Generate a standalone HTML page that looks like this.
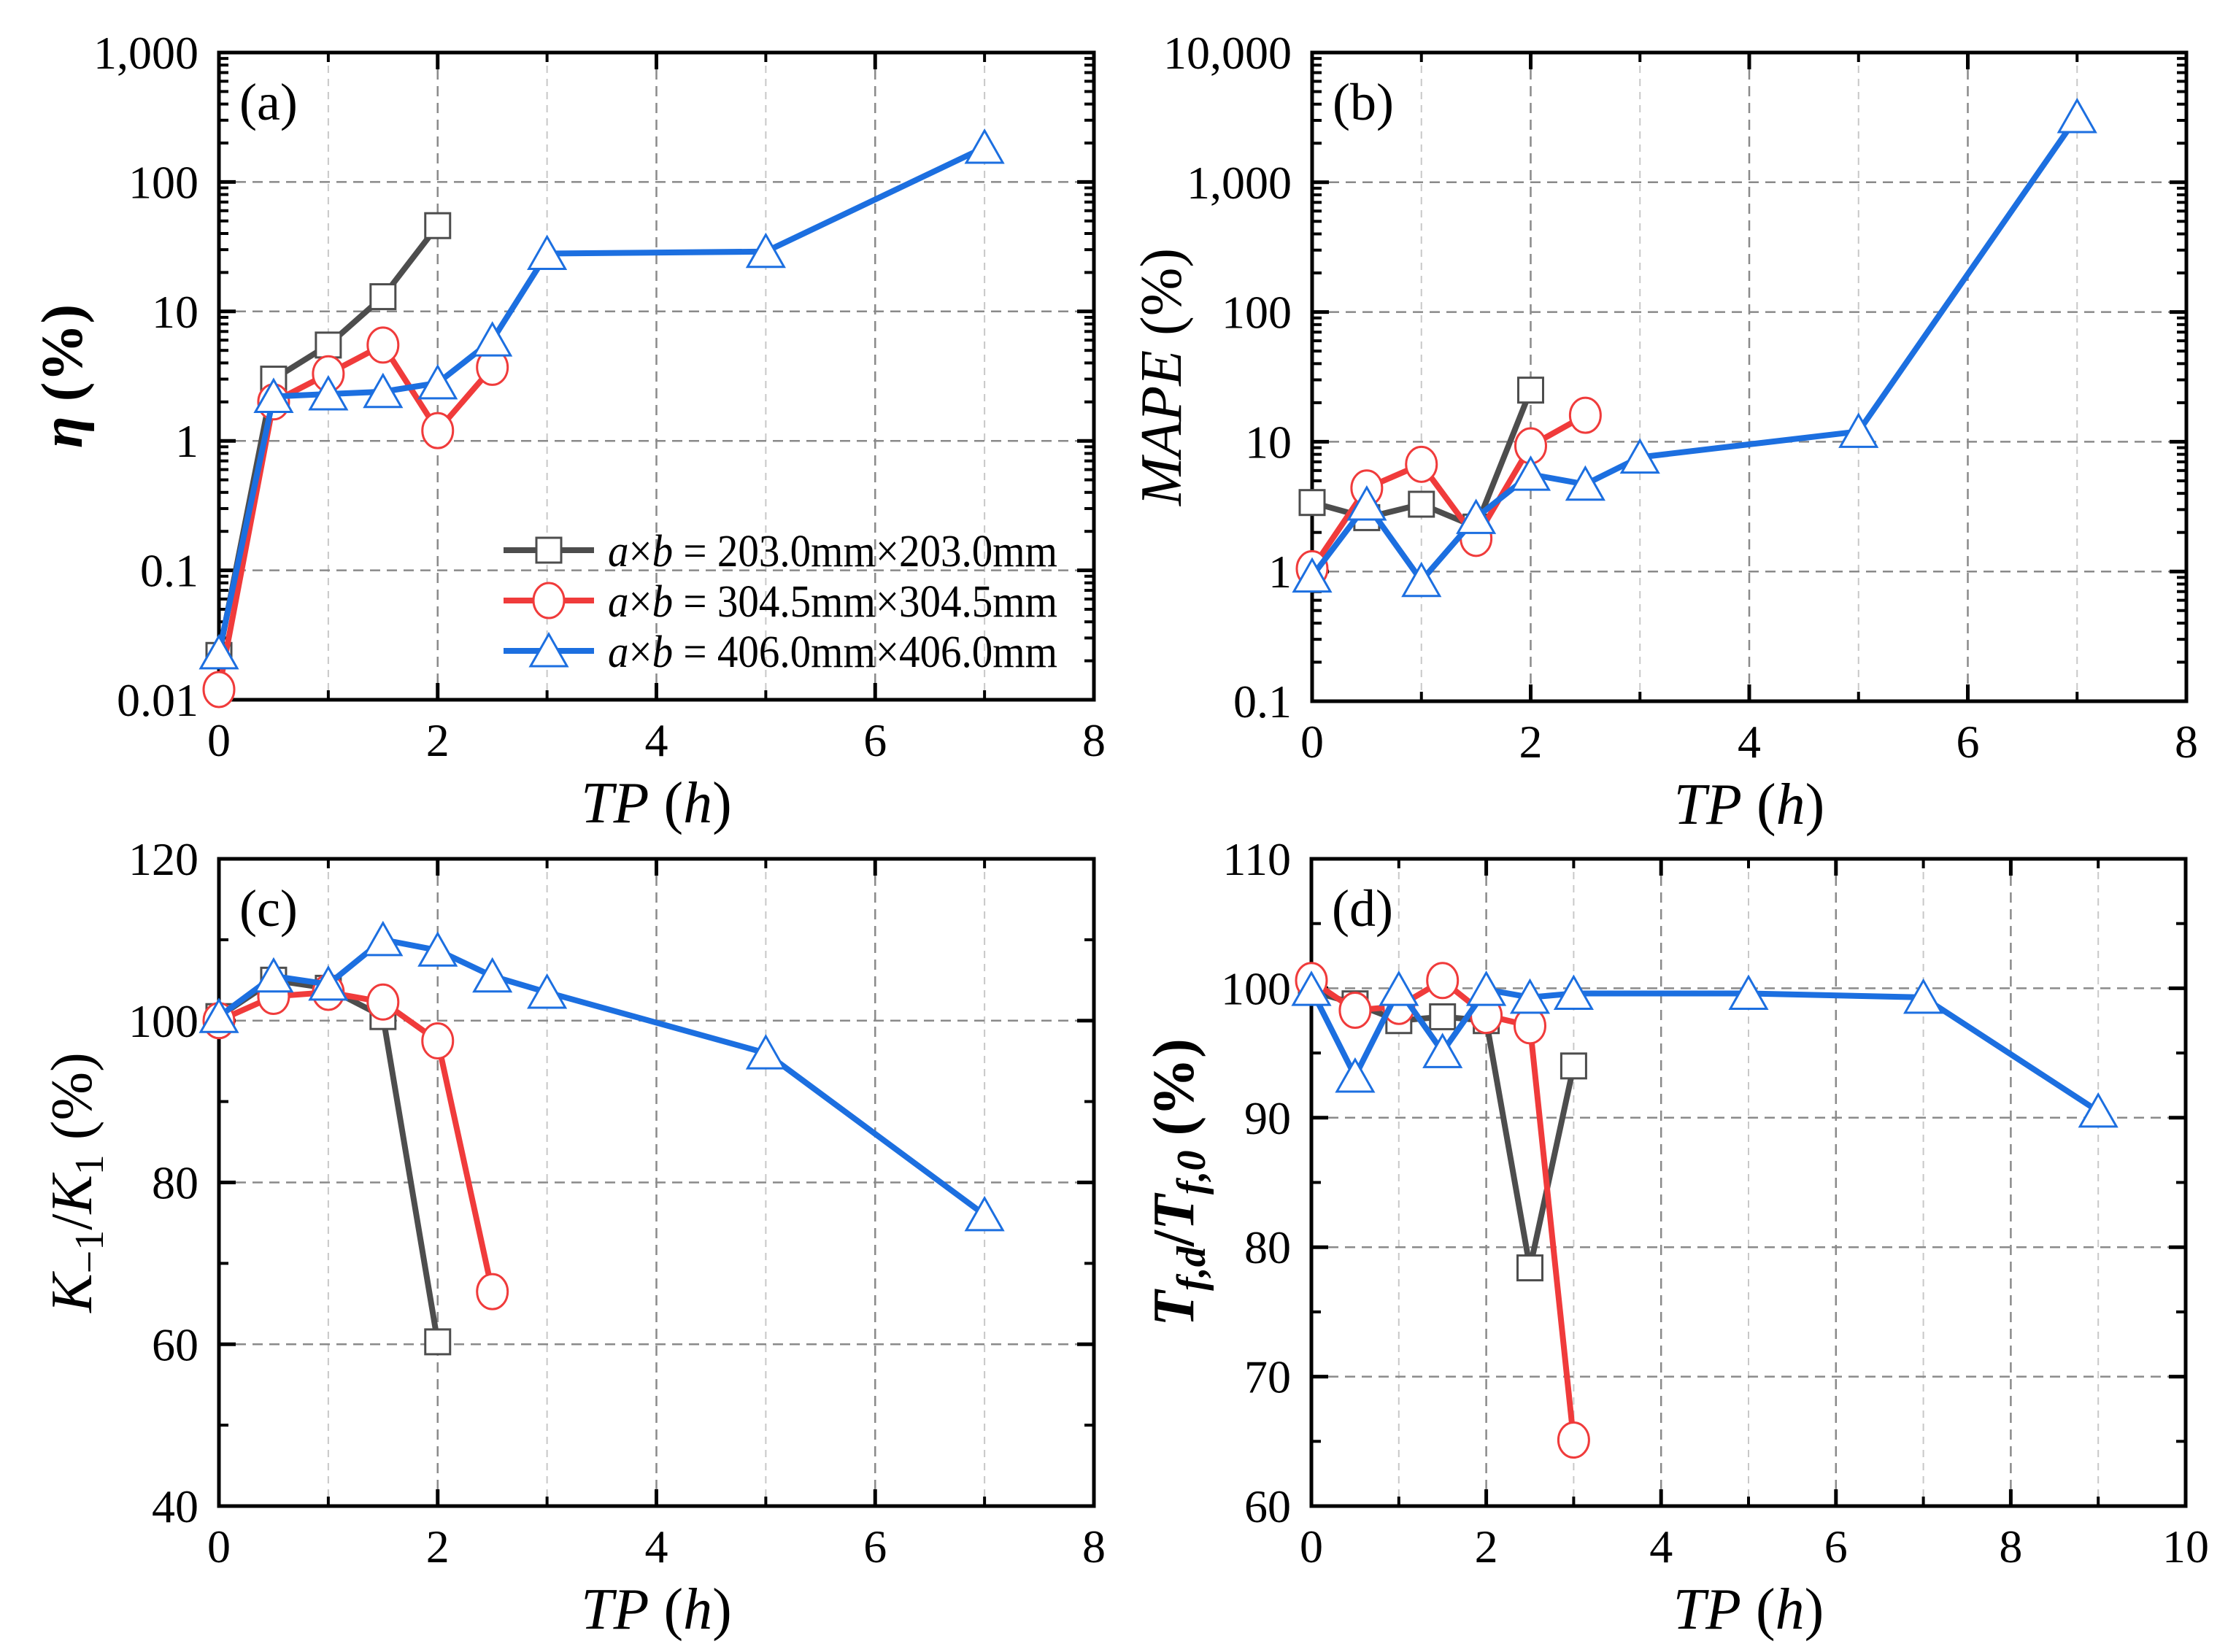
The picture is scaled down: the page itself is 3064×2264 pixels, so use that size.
<!DOCTYPE html>
<html><head><meta charset="utf-8">
<style>
html,body{margin:0;padding:0;background:#fff;}
svg{display:block;font-family:"Liberation Serif","Times New Roman",serif;}
</style></head>
<body>
<svg id="fig" width="3064" height="2264" viewBox="0 0 3064 2264" xmlns="http://www.w3.org/2000/svg"></svg>
<script>
// ---------- data ----------
const aBlackX=[0,0.5,1,1.5,2];
const aBlackY=[0.022,3.0,5.5,13,46];
const aRedX=[0,0.5,1,1.5,2,2.5];
const aRedY=[0.012,2.0,3.3,5.5,1.2,3.7];
const aBlueX=[0,0.5,1,1.5,2,2.5,3,5,7];
const aBlueY=[0.023,2.2,2.3,2.4,2.8,6,28,29,185];

const bBlackX=[0,0.5,1,1.5,2];
const bBlackY=[3.4,2.6,3.3,2.2,25];
const bRedX=[0,0.5,1,1.5,2,2.5];
const bRedY=[1.05,4.4,6.7,1.8,9.3,16];
const bBlueX=[0,0.5,1,1.5,2,2.5,3,5,7];
const bBlueY=[0.92,3.3,0.85,2.6,5.6,4.7,7.6,12,3200];

const cBlackX=[0,0.5,1,1.5,2];
const cBlackY=[100.5,105,104,100.5,60.3];
const cRedX=[0,0.5,1,1.5,2,2.5];
const cRedY=[100,103,103.5,102.3,97.5,66.5];
const cBlueX=[0,0.5,1,1.5,2,2.5,3,5,7];
const cBlueY=[100.5,105.5,104.5,110,108.7,105.5,103.5,96,76];

const dBlackX=[0,0.5,1,1.5,2,2.5,3];
const dBlackY=[99.8,98.8,97.5,97.8,97.5,78.4,94];
const dRedX=[0,0.5,1,1.5,2,2.5,3];
const dRedY=[100.6,98.3,98.6,100.6,97.9,97.1,65.1];
const dBlueX=[0,0.5,1,1.5,2,2.5,3,5,7,9];
const dBlueY=[99.9,93.2,99.9,95.1,99.9,99.3,99.6,99.6,99.3,90.5];

const logTicksA=["0.01","0.1","1","10","100","1,000"];
const logTicksB=["0.1","1","10","100","1,000","10,000"];
const linTicksC=["40","60","80","100","120"];
const linTicksD=["60","70","80","90","100","110"];
const xTicks8=["0","2","4","6","8"];
const xTicks10=["0","2","4","6","8","10"];
const legendLabels=["203.0mm×203.0mm","304.5mm×304.5mm","406.0mm×406.0mm"];

// ---------- helpers ----------
const NS="http://www.w3.org/2000/svg";
const svg=document.getElementById('fig');
function mk(tag,attrs,parent){const e=document.createElementNS(NS,tag);for(const k in attrs)e.setAttribute(k,attrs[k]);(parent||svg).appendChild(e);return e;}
const COL={black:'#4d4d4d',red:'#f03b3b',blue:'#1c6fe0'};
const TICKFS=64;

function panel(cfg){
  const g=mk('g',{});
  
  
  const L=cfg.L,R=cfg.R,T=cfg.T,B=cfg.B;
  const xs=v=>L+(v-cfg.xmin)/(cfg.xmax-cfg.xmin)*(R-L);
  let ys;
  if(cfg.log){const a=Math.log10(cfg.ymin),b=Math.log10(cfg.ymax);ys=v=>B-(Math.log10(v)-a)/(b-a)*(B-T);}
  else ys=v=>B-(v-cfg.ymin)/(cfg.ymax-cfg.ymin)*(B-T);
  for(let x=cfg.xmin+1;x<cfg.xmax;x++){
    const major=(x%2===0);
    const gl=mk('line',{x1:xs(x),x2:xs(x),y1:T,y2:B,stroke:major?'#8a8a8a':'#c8c8c8','stroke-width':major?2.5:2,'stroke-dasharray':major?'14,9':'10,8'},g);
    
    
  }
  const ylabels=cfg.ylabels;
  ylabels.forEach((lab,i)=>{
    const v=cfg.log?Math.pow(10,Math.log10(cfg.ymin)+i):cfg.ymin+i*cfg.ystep;
    const y=ys(v);
    if(i>0&&i<ylabels.length-1){
      const gl=mk('line',{x1:L,x2:R,y1:y,y2:y,stroke:'#8a8a8a','stroke-width':2.5,'stroke-dasharray':'14,9'},g);
      
      
    }
    mk('line',{x1:L,x2:L+23,y1:y,y2:y,stroke:'#000','stroke-width':5},g);
    mk('line',{x1:R,x2:R-23,y1:y,y2:y,stroke:'#000','stroke-width':5},g);
    const t=mk('text',{x:L-28,y:y+22,'text-anchor':'end','font-size':TICKFS},g);
    t.textContent=lab;
    
    
    if(i<ylabels.length-1){
      if(cfg.log){
        for(let m=2;m<=9;m++){const yy=ys(v*m);
          mk('line',{x1:L,x2:L+13,y1:yy,y2:yy,stroke:'#000','stroke-width':4},g);
          mk('line',{x1:R,x2:R-13,y1:yy,y2:yy,stroke:'#000','stroke-width':4},g);}
      }else{const yy=ys(v+cfg.ystep/2);
          mk('line',{x1:L,x2:L+13,y1:yy,y2:yy,stroke:'#000','stroke-width':4},g);
          mk('line',{x1:R,x2:R-13,y1:yy,y2:yy,stroke:'#000','stroke-width':4},g);}
    }
  });
  for(let x=cfg.xmin;x<=cfg.xmax;x++){
    const major=(x%2===0);const len=major?23:13;
    mk('line',{x1:xs(x),x2:xs(x),y1:B,y2:B-len,stroke:'#000','stroke-width':major?5:4},g);
    mk('line',{x1:xs(x),x2:xs(x),y1:T,y2:T+len,stroke:'#000','stroke-width':major?5:4},g);
  }
  cfg.xlabels.forEach((lab,i)=>{
    const t=mk('text',{x:xs(cfg.xmin+i*2),y:B+77,'text-anchor':'middle','font-size':TICKFS},g);
    t.textContent=lab;
    
    
  });
  const fr=mk('rect',{x:L,y:T,width:R-L,height:B-T,fill:'none',stroke:'#000','stroke-width':5},g);
  
  
  const series=[['black','square',cfg.bx,cfg.by],['red','circle',cfg.rx,cfg.ry],['blue','triangle',cfg.ux,cfg.uy]];
  series.forEach(([c,shape,X,Y])=>{
    const sg=mk('g',{},g);
    
    
    const pts=X.map((x,i)=>xs(x)+','+ys(Y[i])).join(' ');
    const pl=mk('polyline',{points:pts,fill:'none',stroke:COL[c],'stroke-width':8,'stroke-linejoin':'round'},sg);
    
    
    X.forEach((x,i)=>{const m=marker(shape,xs(x),ys(Y[i]),COL[c],sg);
      
      });
  });
  const pl=mk('text',{x:L+28,y:T+92,'font-size':72},g);
  pl.textContent=cfg.tag;
  
  
  const xt=mk('text',{x:(L+R)/2,y:B+168,'text-anchor':'middle','font-size':80},g);
  xt.innerHTML='<tspan font-style="italic">TP</tspan> (<tspan font-style="italic">h</tspan>)';
  
  
  const yt=mk('text',{x:0,y:0,'text-anchor':'middle','font-size':80,transform:`translate(${cfg.ytx},${(T+B)/2}) rotate(-90)`},g);
  yt.innerHTML=cfg.ytitle;
  
  
  return {xs,ys,g};
}
function marker(shape,x,y,c,p){
  if(shape==='square')return mk('rect',{x:x-17,y:y-17,width:34,height:34,fill:'#fff',stroke:c,'stroke-width':3},p);
  if(shape==='circle')return mk('ellipse',{cx:x,cy:y,rx:21,ry:24,fill:'#fff',stroke:c,'stroke-width':3},p);
  return mk('polygon',{points:`${x},${y-23} ${x+25},${y+21} ${x-25},${y+21}`,fill:'#fff',stroke:c,'stroke-width':3},p);
}

panel({name:'panel-a-eta',tag:'(a)',L:300,R:1499,T:72,B:959,xmin:0,xmax:8,log:true,ymin:0.01,ymax:1000,ylabels:logTicksA,xlabels:xTicks8,
  bx:aBlackX,by:aBlackY,rx:aRedX,ry:aRedY,ux:aBlueX,uy:aBlueY,ytx:112,
  ytitle:'<tspan font-style="italic" font-weight="bold">η</tspan><tspan font-weight="bold"> (%)</tspan>'});
panel({name:'panel-b-mape',tag:'(b)',L:1798,R:2996,T:72,B:961,xmin:0,xmax:8,log:true,ymin:0.1,ymax:10000,ylabels:logTicksB,xlabels:xTicks8,
  bx:bBlackX,by:bBlackY,rx:bRedX,ry:bRedY,ux:bBlueX,uy:bBlueY,ytx:1618,
  ytitle:'<tspan font-style="italic">MAPE</tspan> (%)'});
panel({name:'panel-c-stiffness',tag:'(c)',L:300,R:1499,T:1177,B:2064,xmin:0,xmax:8,log:false,ymin:40,ymax:120,ystep:20,ylabels:linTicksC,xlabels:xTicks8,
  bx:cBlackX,by:cBlackY,rx:cRedX,ry:cRedY,ux:cBlueX,uy:cBlueY,ytx:125,
  ytitle:'<tspan font-style="italic">K</tspan><tspan font-size="56" dy="16">−1</tspan><tspan dy="-16">/</tspan><tspan font-style="italic">K</tspan><tspan font-size="56" dy="16">1</tspan><tspan dy="-16"> (%)</tspan>'});
panel({name:'panel-d-tf',tag:'(d)',L:1797,R:2995,T:1177,B:2064,xmin:0,xmax:10,log:false,ymin:60,ymax:110,ystep:10,ylabels:linTicksD,xlabels:xTicks10,
  bx:dBlackX,by:dBlackY,rx:dRedX,ry:dRedY,ux:dBlueX,uy:dBlueY,ytx:1635,
  ytitle:'<tspan font-style="italic" font-weight="bold">T</tspan><tspan font-style="italic" font-weight="bold" font-size="56" dy="16">f,d</tspan><tspan font-weight="bold" dy="-16">/</tspan><tspan font-style="italic" font-weight="bold">T</tspan><tspan font-style="italic" font-weight="bold" font-size="56" dy="16">f,0</tspan><tspan font-weight="bold" dy="-16"> (%)</tspan>'});

const lg=mk('g',{});


const legCols=['black','red','blue'],legShapes=['square','circle','triangle'],legY=[754,823,892];
legendLabels.forEach((lab,i)=>{
  const e=mk('g',{},lg);
  
  
  mk('line',{x1:690,x2:814,y1:legY[i],y2:legY[i],stroke:COL[legCols[i]],'stroke-width':8},e);
  marker(legShapes[i],752,legY[i],COL[legCols[i]],e);
  const t=mk('text',{x:833,y:legY[i]+22,'font-size':62,textLength:616,lengthAdjust:'spacingAndGlyphs'},e);
  t.innerHTML='<tspan font-style="italic">a</tspan>×<tspan font-style="italic">b</tspan> = '+lab;
});
</script>
</body></html>
